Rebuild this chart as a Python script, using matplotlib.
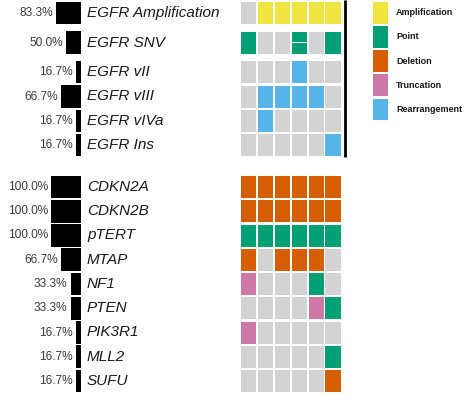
import matplotlib
matplotlib.use("Agg")
import matplotlib.pyplot as plt
from matplotlib.patches import Rectangle

# ---------------- data ----------------
genes_top = ["EGFR Amplification", "EGFR SNV", "EGFR vII", "EGFR vIII", "EGFR vIVa", "EGFR Ins"]
genes_bottom = ["CDKN2A", "CDKN2B", "pTERT", "MTAP", "NF1", "PTEN", "PIK3R1", "MLL2", "SUFU"]

# per-sample alteration calls ("" = none, "PP" = two point mutations)
calls_top = [
    ["", "A", "A", "A", "A", "A"],
    ["P", "", "", "PP", "", "P"],
    ["", "", "", "R", "", ""],
    ["", "R", "R", "R", "R", ""],
    ["", "R", "", "", "", ""],
    ["", "", "", "", "", "R"],
]
calls_bottom = [
    ["D", "D", "D", "D", "D", "D"],
    ["D", "D", "D", "D", "D", "D"],
    ["P", "P", "P", "P", "P", "P"],
    ["D", "", "D", "D", "D", ""],
    ["T", "", "", "", "P", ""],
    ["", "", "", "", "T", "P"],
    ["T", "", "", "", "", ""],
    ["", "", "", "", "", "P"],
    ["", "", "", "", "", "D"],
]
pct_top = [83.3, 50.0, 16.7, 66.7, 16.7, 16.7]
pct_bottom = [100.0, 100.0, 100.0, 66.7, 33.3, 33.3, 16.7, 16.7, 16.7]

legend_codes = ["A", "P", "D", "T", "R"]
legend_labels = ["Amplification", "Point", "Deletion", "Truncation", "Rearrangement"]

# ---------------- style ----------------
colors = {"A": "#F0E442", "P": "#009E73", "D": "#D55E00", "T": "#CC79A7", "R": "#56B4E9"}
empty = "#D3D3D3"
font = "Liberation Sans"

W, H = 474, 395
fig = plt.figure(figsize=(W / 100, H / 100), dpi=100)
ax = fig.add_axes([0, 0, 1, 1])
ax.set_xlim(0, W)
ax.set_ylim(H, 0)
ax.axis("off")

# row layout (pixel units)
pitch = 24.3
y_top = []
y = 13.0
for i in range(len(genes_top)):
    y_top.append(y)
    y += pitch + (5.3 if i < 2 else 0)
y_bottom = [187.0 + 24.25 * i for i in range(len(genes_bottom))]

bar_right = 81.0
bar_full = 29.5
cell_x0, cell_pitch, cell_w, cell_h = 241.0, 16.9, 15.3, 22.0

def draw_section(genes, calls, pcts, ys):
    widths = [p / 100 * bar_full for p in pcts]
    ax.barh(ys, [-w for w in widths], left=bar_right, height=22.6, color="black")
    for g, p, w, yc in zip(genes, pcts, widths, ys):
        ax.text(bar_right - w - 3.5, yc, f"{p:.1f}%", ha="right", va="center",
                fontsize=8.6, family=font, color="#3a3a3a")
        ax.text(bar_right + 6, yc, g, ha="left", va="center", fontsize=11,
                family=font, style="italic", color="#1a1a1a")
    for row, yc in zip(calls, ys):
        for j, c in enumerate(row):
            x = cell_x0 + j * cell_pitch
            top = yc - cell_h / 2
            if c == "PP":
                hh = (cell_h - 1.2) / 2
                ax.add_patch(Rectangle((x, top), cell_w, hh, color=colors["P"], lw=0))
                ax.add_patch(Rectangle((x, top + hh + 1.2), cell_w, hh, color=colors["P"], lw=0))
            else:
                ax.add_patch(Rectangle((x, top), cell_w, cell_h,
                                       color=colors.get(c, empty), lw=0))

draw_section(genes_top, calls_top, pct_top, y_top)
draw_section(genes_bottom, calls_bottom, pct_bottom, y_bottom)

# vertical separator line
ax.plot([345.2, 345.2], [0, 157], color="black", lw=2.0, solid_capstyle="butt")

# legend
for i, (c, lab) in enumerate(zip(legend_codes, legend_labels)):
    top = 1.8 + i * 24.2
    ax.add_patch(Rectangle((373.3, top), 15.0, 21.7, color=colors[c], lw=0))
    ax.text(396, top + 10.8, lab, ha="left", va="center", fontsize=6.5,
            family=font, fontweight="bold", color="#1a1a1a")

fig.savefig("out.png", dpi=100)
